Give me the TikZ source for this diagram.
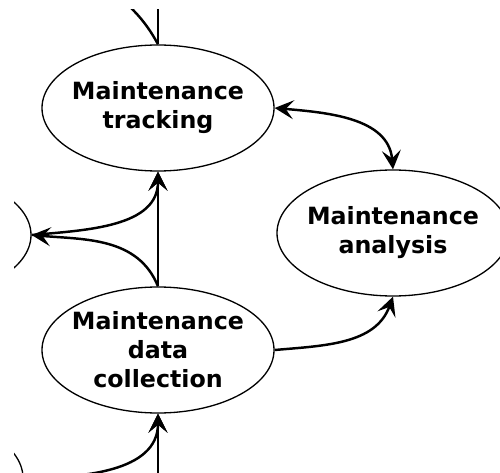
\documentclass[tikz,border=0pt]{standalone}
\usepackage{fontspec}
\setmainfont{DejaVu Sans}
\usetikzlibrary{arrows.meta, shapes.geometric}

\begin{document}
\begin{tikzpicture}[
    proc/.style={draw, ellipse, line width=0.75pt, minimum width=4.64cm, minimum height=2.52cm,
      inner sep=-4mm, align=center, font=\fontsize{13.5}{16.5}\selectfont\bfseries},
    flow/.style={line width=1.4pt, -{Stealth[length=3.8mm, width=3.8mm, inset=1.6mm]}},
    both/.style={line width=1.4pt, {Stealth[length=3.8mm, width=3.8mm, inset=1.6mm]}-{Stealth[length=3.8mm, width=3.8mm, inset=1.6mm]}}
  ]
  \useasboundingbox (0,0) rectangle (10,9.44);
  \clip (0.28,0) rectangle (10,9.24);

  % Add nodes
  \node[proc] (trk) at (3.16,7.28) {Maintenance\\tracking};
  \node[proc] (anl) at (7.86,4.78) {Maintenance\\analysis};
  \node[proc] (col) at (3.16,2.44) {Maintenance\\data\\collection};

  % nodes outside the frame
  \node[proc] (lft) at (-1.70,4.74) {};
  \node[proc] (blft) at (-1.86,-0.12) {};
  \node[proc] (tlft) at (-3.0,10.4) {};
  \node[proc] (abv) at (3.16,12.2) {};
  \node[proc] (blw) at (3.16,-2.4) {};

  % Add connectors
  \draw[flow] (col.north) -- (trk.south);
  \draw[flow] (col.north) to[out=112, in=-5] (lft.east);
  \draw[flow] (lft.east) to[out=5, in=-90] (trk.south);
  \draw[both] (trk.east) to[out=-5, in=95] (anl.north);
  \draw[flow] (col.east) to[out=5, in=-110] (anl.south);
  \draw[flow] (blft.east) to[out=0, in=-90] (col.south);
  \draw[flow] (blw.north) -- (col.south);
  \draw[line width=1.4pt] (trk.north) -- (abv.south);
  \draw[line width=1.4pt] (trk.north) to[out=118, in=-10] (tlft.east);

\end{tikzpicture}
\end{document}
